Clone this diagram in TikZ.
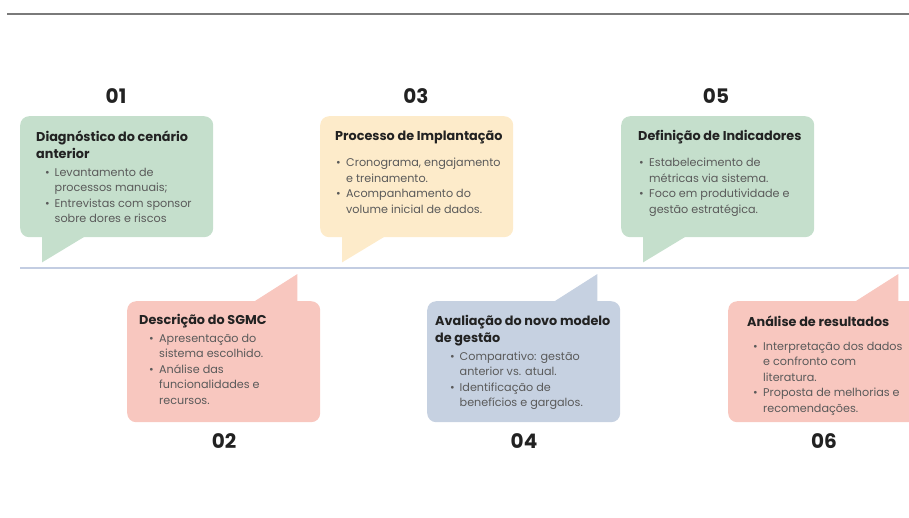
\documentclass[tikz,border=0pt]{standalone}
\usepackage{fontspec}
\setmainfont{Poppins}
\usetikzlibrary{positioning}

\definecolor{sage}{HTML}{C5DFCC}
\definecolor{sand}{HTML}{FDEBCA}
\definecolor{blush}{HTML}{F8C7BF}
\definecolor{slate}{HTML}{C6D1E1}
\definecolor{ink}{HTML}{222222}
\definecolor{muted}{HTML}{5A5A5A}
\definecolor{rail}{HTML}{C3CDE2}
\definecolor{rule}{HTML}{7A7A7A}

% bullet list under a card title: #1 indent, #2 bullet column, #3 rows
\newlength\hang
\newcommand\bl{\makebox[\hang][l]{\textbullet}}
\newcommand{\points}[3]{{\mdseries\color{muted}\fontsize{11.2}{15.6}\selectfont\setlength\hang{#2}%
  \begin{tabular}[t]{@{\hspace{#1}}l@{}l@{}}#3\end{tabular}}}

\begin{document}
\begin{tikzpicture}[x=1pt,y=-1pt,
  card/.style={anchor=north west,minimum width=193pt,minimum height=121pt,rounded corners=9pt,inner sep=0pt},
  txt/.style={anchor=base west,align=left,inner sep=0pt,text=ink,font=\fontsize{12.8}{17}\selectfont\bfseries},
  num/.style={font=\fontsize{20}{20}\selectfont\bfseries,text=ink}]
  \clip (0,0) rectangle (909,517);

  \draw[rule,line width=1.6pt] (7,14) -- (909,14);
  \draw[rail,line width=1.5pt] (20,268) -- (909,268);

  % upper cards
  \node[card,fill=sage] (b1) at (20,116) {};
  \node[card,fill=sand] (b3) at (320,116) {};
  \node[card,fill=sage] (b5) at (621,116) {};
  \foreach \b/\c in {b1/sage,b3/sand,b5/sage}
    \fill[\c] ([xshift=22pt,yshift=1pt]\b.south west) -- ++(0,26) -- ++(43,-26) -- cycle;

  % lower cards
  \node[card,fill=blush] (b2) at (127,301) {};
  \node[card,fill=slate] (b4) at (427,301) {};
  \node[card,fill=blush] (b6) at (728,301) {};
  \foreach \b/\c in {b2/blush,b4/slate,b6/blush}
    \fill[\c] ([xshift=-23pt,yshift=-1pt]\b.north east) -- ++(0,-28) -- ++(-44,28) -- cycle;

  \node[num] (n1) at (116,96) {01};
  \node[num] (n3) at (416,96) {03};
  \node[num] (n5) at (716,96) {05};
  \node[num] (n2) at (224,441) {02};
  \node[num] (n4) at (524,441) {04};
  \node[num] (n6) at (824,441) {06};

  % text sits on the baseline of its first bullet
  \node[txt] (t1) at (36,176) {Diagnóstico do cenário\\anterior\\[1pt]
    \points{9pt}{9.5pt}{\bl & Levantamento de\\ & processos manuais;\\ \bl & Entrevistas com sponsor\\ & sobre dores e riscos}};
  \node[txt] (t3) at (335,166.5) {Processo de Implantação\\[9pt]
    \points{1pt}{10pt}{\bl & Cronograma, engajamento\\ & e treinamento.\\ \bl & Acompanhamento do\\ & volume inicial de dados.}};
  \node[txt] (t5) at (638,166.5) {Definição de Indicadores\\[9pt]
    \points{1pt}{10pt}{\bl & Estabelecimento de\\ & métricas via sistema.\\ \bl & Foco em produtividade e\\ & gestão estratégica.}};
  \node[txt] (t2) at (139,342) {Descrição do SGMC\\[1pt]
    \points{10pt}{10pt}{\bl & Apresentação do\\ & sistema escolhido.\\ \bl & Análise das\\ & funcionalidades e\\ & recursos.}};
  \node[txt] (t4) at (435,360) {Avaliação do novo modelo\\de gestão\\[1pt]
    \points{15pt}{9.5pt}{\bl & Comparativo: gestão\\ & anterior vs. atual.\\ \bl & Identificação de\\ & benefícios e gargalos.}};
  \node[txt] (t6) at (747,350) {Análise de resultados\\[7pt]
    \points{6pt}{10pt}{\bl & Interpretação dos dados\\ & e confronto com\\ & literatura.\\ \bl & Proposta de melhorias e\\ & recomendações.}};
\end{tikzpicture}
\end{document}
